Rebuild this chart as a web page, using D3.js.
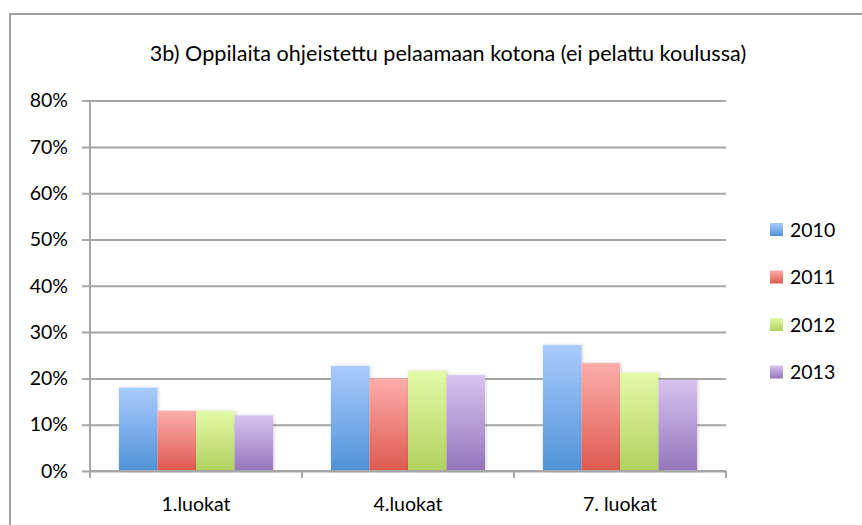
<!DOCTYPE html>
<html>
<head>
<meta charset="utf-8">
<script src="https://cdn.jsdelivr.net/npm/d3@7"></script>
<style>
  body { margin: 0; background: #fff; }
  text { font-family: Lato, "Open Sans", sans-serif; fill: #000; }
</style>
</head>
<body>
<svg id="chart"></svg>
<script>
var categories = ['1.luokat', '4.luokat', '7. luokat'];
var years = ['2010', '2011', '2012', '2013'];
var v2010 = [0.18, 0.227, 0.272];
var v2011 = [0.13, 0.20, 0.233];
var v2012 = [0.13, 0.216, 0.212];
var v2013 = [0.12, 0.207, 0.197];
var yTicks = [0, 0.1, 0.2, 0.3, 0.4, 0.5, 0.6, 0.7, 0.8];
var title = '3b) Oppilaita ohjeistettu pelaamaan kotona (ei pelattu koulussa)';

var series = [v2010, v2011, v2012, v2013];
var colors = [
  ['#a9cbfd', '#5093d8'],
  ['#fdadab', '#dd5a4f'],
  ['#e3faa8', '#b1d25e'],
  ['#d7c3f0', '#9476bc']
];

var W = 862, H = 525;
var svg = d3.select('#chart').attr('width', W).attr('height', H);

// outer frame
svg.append('rect')
  .attr('x', 10).attr('y', 14)
  .attr('width', W + 20).attr('height', H + 20)
  .attr('fill', 'none').attr('stroke', '#a0a0a0').attr('stroke-width', 2);

var defs = svg.append('defs');
colors.forEach(function(c, i) {
  var g = defs.append('linearGradient')
    .attr('id', 'grad' + i)
    .attr('x1', 0).attr('y1', 0).attr('x2', 0).attr('y2', 1);
  g.append('stop').attr('offset', '0%').attr('stop-color', c[0]);
  g.append('stop').attr('offset', '100%').attr('stop-color', c[1]);
});
var f = defs.append('filter').attr('id', 'shadow')
  .attr('x', '-20%').attr('y', '-10%').attr('width', '140%').attr('height', '120%');
f.append('feDropShadow').attr('dx', 1).attr('dy', 0).attr('stdDeviation', 1.5)
  .attr('flood-color', '#000').attr('flood-opacity', 0.2);

var x0 = 90, x1 = 726, y0 = 471, y1 = 100.6;

var x = d3.scaleBand().domain(categories).range([x0, x1]);
var xi = d3.scaleBand().domain(years)
  .range([0, x.bandwidth()]).paddingOuter(0.75).paddingInner(0);
var y = d3.scaleLinear().domain([0, 0.8]).range([y0, y1]);

// title
svg.append('text')
  .attr('x', 448).attr('y', 61)
  .attr('text-anchor', 'middle')
  .style('font-size', '21.6px')
  .text(title);

// gridlines
var yAxis = d3.axisLeft(y).tickValues(yTicks)
  .tickFormat(d3.format('.0%'))
  .tickSize(-(x1 - x0)).tickPadding(22);
var gy = svg.append('g')
  .attr('transform', 'translate(' + x0 + ',0)')
  .call(yAxis);
gy.select('.domain').remove();
gy.selectAll('.tick line')
  .attr('x1', -8)
  .attr('stroke', '#a6a6a6').attr('stroke-width', 2);
gy.selectAll('.tick text')
  .style('font-size', '19.5px').style('font-family', 'Lato, sans-serif');

// bars
var groups = svg.append('g').selectAll('g')
  .data(categories)
  .enter().append('g')
  .attr('transform', function(d) { return 'translate(' + x(d) + ',0)'; });

groups.selectAll('rect')
  .data(function(d, ci) {
    return series.map(function(s, si) { return { year: years[si], si: si, v: s[ci] }; });
  })
  .enter().append('rect')
  .attr('x', function(d) { return xi(d.year); })
  .attr('y', function(d) { return y(d.v); })
  .attr('width', xi.bandwidth())
  .attr('height', function(d) { return y0 - y(d.v); })
  .attr('fill', function(d) { return 'url(#grad' + d.si + ')'; })
  .attr('filter', 'url(#shadow)');

// axes lines
svg.append('line')
  .attr('x1', x0).attr('x2', x0).attr('y1', y1).attr('y2', y0 + 7)
  .attr('stroke', '#a6a6a6').attr('stroke-width', 2);

var xAxis = d3.axisBottom(x).tickSize(0).tickPadding(26);
var gx = svg.append('g')
  .attr('transform', 'translate(0,' + y0 + ')')
  .call(xAxis);
gx.select('.domain')
  .attr('d', 'M' + x0 + ',0H' + x1)
  .attr('stroke', '#a6a6a6').attr('stroke-width', 2);
gx.selectAll('.tick text')
  .style('font-size', '19.5px').style('font-family', 'Lato, sans-serif');

// category boundary ticks
gx.selectAll('.bound')
  .data(categories.concat(['end']))
  .enter().append('line')
  .attr('class', 'bound')
  .attr('x1', function(d, i) { return x0 + i * x.step(); })
  .attr('x2', function(d, i) { return x0 + i * x.step(); })
  .attr('y1', 0).attr('y2', 7)
  .attr('stroke', '#a6a6a6').attr('stroke-width', 2);

// legend
var leg = svg.append('g').attr('transform', 'translate(770,230)');
var li = leg.selectAll('g').data(years).enter().append('g')
  .attr('transform', function(d, i) { return 'translate(0,' + (i * 47.5) + ')'; });
li.append('rect')
  .attr('x', 0).attr('y', -7).attr('width', 13).attr('height', 13)
  .attr('fill', function(d, i) { return 'url(#grad' + i + ')'; });
li.append('text')
  .attr('x', 20).attr('y', 0).attr('dy', '0.35em')
  .style('font-size', '19.5px')
  .text(function(d) { return d; });
</script>
</body>
</html>
